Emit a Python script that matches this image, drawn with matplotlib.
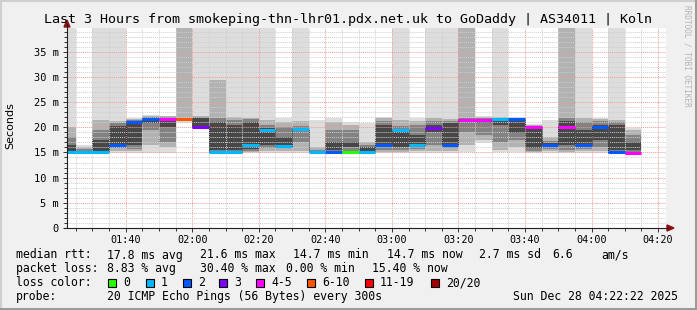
import numpy as np
import matplotlib
matplotlib.use("Agg")
import matplotlib.pyplot as plt
from matplotlib.lines import Line2D
from matplotlib.patches import Polygon, Rectangle
from matplotlib.ticker import MultipleLocator, FuncFormatter

title = "Last 3 Hours from smokeping-thn-lhr01.pdx.net.uk to GoDaddy | AS34011 | Koln"

# 5 minute steps, first one starts 01:20 (minutes after midnight)
step_start = 80
step_len = 5
window = (82 + 22 / 60, 262 + 22 / 60)   # 01:22:22 .. 04:22:22
y_top = 39.7

median_ms = [15.0, 15.0, 15.0, 16.4, 21.1, 21.6, 21.7, 21.7, 20.1, 15.0,
             15.0, 16.4, 19.5, 16.3, 19.6, 15.0, 15.0, 15.0, 15.0, 16.4,
             19.5, 16.4, 19.8, 16.4, 21.5, 21.5, 21.6, 21.6, 20.0, 16.4,
             20.0, 16.4, 20.0, 15.0, 14.8]
loss_pings = [1, 1, 1, 2, 2, 2, 4, 6, 3, 1,
              1, 1, 1, 1, 1, 1, 2, 0, 1, 2,
              1, 1, 3, 2, 4, 4, 1, 2, 4, 2,
              4, 2, 2, 2, 4]

# sorted ping summary per step (ms), 45 = above the graph
smoke_ms = [
    [14.9, 15.0, 15.1, 15.2, 16.5, 18.0, 20.0, 45],
    [14.9, 15.0, 15.0, 15.1, 15.3, 15.6, 16.0, 16.5],
    [14.9, 15.0, 15.1, 15.3, 17.5, 19.5, 21.5, 45],
    [14.9, 15.2, 15.8, 16.2, 20.3, 20.8, 21.2, 45],
    [14.9, 15.2, 15.6, 16.5, 21.3, 21.5, 21.7, 21.9],
    [14.9, 16.5, 19.5, 20.8, 21.9, 22.0, 22.2, 22.4],
    [14.9, 16.0, 17.0, 20.0, 21.9, 22.0, 22.2, 22.3],
    [20.8, 21.5, 21.7, 21.7, 21.8, 21.9, 45, 45],
    [19.9, 20.0, 20.2, 20.3, 21.8, 22.1, 22.2, 45],
    [14.9, 15.0, 15.2, 15.4, 21.0, 21.8, 29.4, 45],
    [14.9, 15.0, 15.2, 15.5, 20.5, 21.5, 22.0, 45],
    [14.9, 15.0, 15.3, 15.6, 21.0, 21.6, 21.8, 45],
    [14.9, 15.2, 15.8, 16.5, 19.8, 20.5, 21.5, 45],
    [14.9, 15.3, 15.8, 16.1, 18.0, 20.0, 21.0, 21.8],
    [14.9, 15.3, 17.0, 19.3, 19.8, 20.3, 21.2, 45],
    [14.9, 15.0, 15.1, 15.2, 15.3, 15.5, 16.0, 21.5],
    [14.9, 15.0, 15.2, 15.5, 17.0, 19.5, 21.0, 21.9],
    [14.9, 15.0, 15.3, 16.0, 17.0, 19.5, 20.5, 21.1],
    [14.9, 15.0, 15.1, 15.3, 16.0, 16.4, 17.0, 20.8],
    [14.9, 15.0, 15.5, 16.0, 20.5, 21.3, 21.8, 22.1],
    [14.9, 15.0, 15.5, 16.0, 19.7, 20.2, 21.5, 45],
    [14.9, 15.2, 15.6, 16.0, 18.5, 20.5, 21.2, 21.8],
    [14.9, 15.3, 16.5, 19.0, 20.5, 21.2, 21.8, 45],
    [14.9, 15.2, 15.8, 16.2, 20.8, 21.3, 21.7, 45],
    [15.0, 16.5, 19.0, 21.3, 21.6, 21.8, 45, 45],
    [16.8, 17.5, 18.5, 20.8, 21.6, 21.8, 22.0, 22.3],
    [15.0, 15.5, 17.0, 20.5, 21.7, 21.8, 22.0, 45],
    [15.0, 16.0, 17.5, 18.8, 21.7, 21.8, 21.9, 22.0],
    [14.9, 15.0, 15.3, 15.8, 20.1, 20.3, 20.5, 20.7],
    [14.9, 15.2, 15.6, 16.0, 16.8, 17.3, 18.0, 21.5],
    [14.9, 15.0, 15.5, 16.5, 21.3, 21.8, 45, 45],
    [14.9, 15.2, 15.7, 16.1, 19.5, 21.0, 21.8, 45],
    [14.9, 15.3, 16.0, 17.5, 20.5, 21.3, 21.6, 21.8],
    [14.9, 15.0, 15.2, 15.4, 20.5, 21.0, 21.5, 45],
    [14.7, 14.8, 15.0, 15.5, 17.0, 18.5, 19.5, 19.9],
]

loss_labels = ["0", "1", "2", "3", "4-5", "6-10", "11-19", "20/20"]
loss_colors = ["#26ff00", "#00b8ff", "#0059ff", "#7e00ff", "#ff00ff",
               "#ff5500", "#ff0000", "#a10000"]
smoke_shades = ["#dddddd", "#b2b2b2", "#828282", "#474747"]

stats_rtt = ["median rtt:", "17.8 ms avg", "21.6 ms max", "14.7 ms min",
             "14.7 ms now", "2.7 ms sd", "6.6", "am/s"]
stats_loss = ["packet loss:", "8.83 % avg", "30.40 % max", "0.00 % min",
              "15.40 % now"]
probe_text = ["probe:", "20 ICMP Echo Pings (56 Bytes) every 300s",
              "Sun Dec 28 04:22:22 2025"]


def loss_color(n):
    if n <= 3:
        return loss_colors[n]
    if n <= 5:
        return loss_colors[4]
    if n <= 10:
        return loss_colors[5]
    if n <= 19:
        return loss_colors[6]
    return loss_colors[7]


W, H = 697, 310
def fx(px):
    return px / W
def fy(py):
    return 1 - py / H

mono = "DejaVu Sans Mono"
fig = plt.figure(figsize=(W / 100, H / 100), dpi=100, facecolor="#f0f0f0")
ax = fig.add_axes([fx(67), fy(228), fx(666) - fx(67), fy(28) - fy(228)])
ax.set_facecolor("white")

smoke = np.array(smoke_ms)
x0 = step_start + step_len * np.arange(len(median_ms))
for k, shade in enumerate(smoke_shades):
    lo = smoke[:, k]
    hi = smoke[:, 7 - k]
    ax.bar(x0, hi - lo, bottom=lo, width=step_len, align="edge",
           color=shade, linewidth=0, zorder=1 + k * 0.1)

# median: dark step connectors + loss coloured segments
edges = np.append(x0, x0[-1] + step_len)
ax.step(edges, np.append(median_ms, median_ms[-1]), where="post",
        color="#202020", lw=0.7, ls=(0, (1, 1)), zorder=3)
lc = ax.hlines(median_ms, x0, x0 + step_len,
               colors=[loss_color(n) for n in loss_pings], lw=2.2, zorder=4)
lc.set_capstyle("butt")

ax.set_xlim(*window)
ax.set_ylim(0, y_top)
ax.set_axisbelow(False)
ax.xaxis.set_major_locator(MultipleLocator(20))
ax.xaxis.set_minor_locator(MultipleLocator(5))
ax.yaxis.set_major_locator(MultipleLocator(5))
ax.yaxis.set_minor_locator(MultipleLocator(1))
ax.xaxis.set_major_formatter(FuncFormatter(lambda m, p: "%02d:%02d" % (int(m) // 60, int(m) % 60)))
ax.yaxis.set_major_formatter(FuncFormatter(lambda v, p: "0" if v == 0 else "%g m" % v))
ax.grid(which="minor", color="#cfcfcf", lw=0.7, ls=(0, (1, 1)))
ax.grid(which="major", color="#f29a9a", lw=0.7, ls=(0, (1, 1)))
ax.tick_params(which="both", direction="out", color="#333333", width=0.7)
ax.tick_params(which="major", length=3)
ax.tick_params(which="minor", length=2)
ax.tick_params(axis="y", labelsize=7.5, pad=3)
ax.tick_params(axis="x", labelsize=7.3, pad=2)
for lab in ax.get_xticklabels() + ax.get_yticklabels():
    lab.set_family(mono)
for s in ax.spines.values():
    s.set_visible(False)

# axes lines and arrows, in pixel coordinates
fig.add_artist(Line2D([fx(67), fx(67)], [fy(228), fy(24)], color="#202020", lw=0.8))
fig.add_artist(Line2D([fx(64), fx(668)], [fy(228), fy(228)], color="#202020", lw=0.8))
fig.add_artist(Polygon([(fx(64), fy(27)), (fx(70), fy(27)), (fx(67), fy(20))],
                       closed=True, color="#8b1010"))
fig.add_artist(Polygon([(fx(667), fy(225)), (fx(667), fy(231)), (fx(674), fy(228))],
                       closed=True, color="#8b1010"))

# frame shading
fig.add_artist(Line2D([0, 1], [fy(0.8), fy(0.8)], color="#cfcfcf", lw=1.5))
fig.add_artist(Line2D([fx(0.8), fx(0.8)], [0, 1], color="#cfcfcf", lw=1.5))
fig.add_artist(Line2D([0, 1], [fy(308.8), fy(308.8)], color="#9a9a9a", lw=2.2))
fig.add_artist(Line2D([fx(695.8), fx(695.8)], [0, 1], color="#9a9a9a", lw=2.2))

fig.text(fx(348), fy(19), title, family=mono, fontsize=9.6, ha="center", va="center")
fig.text(fx(10), fy(126), "Seconds", family="DejaVu Sans", fontsize=8,
         rotation=90, ha="center", va="center")
fig.text(fx(687), fy(5), "RRDTOOL / TOBI OETIKER", family=mono, fontsize=5.6,
         color="#b4b4b4", rotation=270, ha="center", va="top")

# legend block
fs = 8.3
rtt_x = [16, 107, 200, 293, 387, 479, 552, 601]
for s, x in zip(stats_rtt, rtt_x):
    fig.text(fx(x), fy(255), s, family=mono, fontsize=fs, va="center")
loss_x = [16, 107, 200, 286, 372]
for s, x in zip(stats_loss, loss_x):
    fig.text(fx(x), fy(268.5), s, family=mono, fontsize=fs, va="center")
fig.text(fx(16), fy(282.5), "loss color:", family=mono, fontsize=fs, va="center")
box_x = [108, 146, 183, 219, 256, 307, 365, 431]
for lab, col, bx in zip(loss_labels, loss_colors, box_x):
    fig.add_artist(Rectangle((fx(bx), fy(287)), fx(8), 8 / H, facecolor=col,
                             edgecolor="black", lw=0.8))
    fig.text(fx(bx + 15), fy(282.5), lab, family=mono, fontsize=fs, va="center")
probe_x = [16, 107, 513]
for s, x in zip(probe_text, probe_x):
    fig.text(fx(x), fy(296.5), s, family=mono, fontsize=fs, va="center")

fig.savefig("out.png", dpi=100, facecolor=fig.get_facecolor())
